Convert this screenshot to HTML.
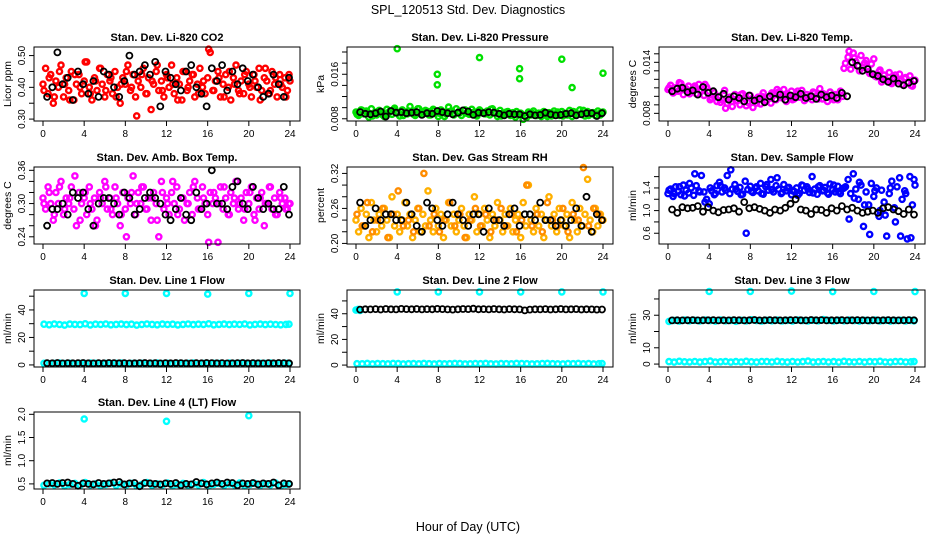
<!DOCTYPE html>
<html><head><meta charset="utf-8"><style>
body{margin:0;background:#fff;}
svg{display:block;font-family:"Liberation Sans",Arial,sans-serif;}
</style></head><body>
<svg id="chart" width="936" height="540" xmlns="http://www.w3.org/2000/svg">
<rect width="936" height="540" fill="#fff"/>
<text x="468" y="14" text-anchor="middle" font-size="12.5">SPL_120513  Std. Dev. Diagnostics</text>
<text x="468" y="531" text-anchor="middle" font-size="12.5">Hour of Day (UTC)</text>
</svg>
<script>
const hoursC=[0,0.25,0.5,0.75,1,1.25,1.5,1.75,2,2.25,2.5,2.75,3,3.25,3.5,3.75,4,4.25,4.5,4.75,5,5.25,5.5,5.75,6,6.25,6.5,6.75,7,7.25,7.5,7.75,8,8.25,8.5,8.75,9,9.25,9.5,9.75,10,10.25,10.5,10.75,11,11.25,11.5,11.75,12,12.25,12.5,12.75,13,13.25,13.5,13.75,14,14.25,14.5,14.75,15,15.25,15.5,15.75,16,16.25,16.5,16.75,17,17.25,17.5,17.75,18,18.25,18.5,18.75,19,19.25,19.5,19.75,20,20.25,20.5,20.75,21,21.25,21.5,21.75,22,22.25,22.5,22.75,23,23.25,23.5,23.75,24];
const hoursH=[0.1,0.6,1.1,1.6,2.1,2.6,3.1,3.6,4.1,4.6,5.1,5.6,6.1,6.6,7.1,7.6,8.1,8.6,9.1,9.6,10.1,10.6,11.1,11.6,12.1,12.6,13.1,13.6,14.1,14.6,15.1,15.6,16.1,16.6,17.1,17.6,18.1,18.6,19.1,19.6,20.1,20.6,21.1,21.6,22.1,22.6,23.1,23.6,23.9];
const hoursK=[0.4,0.9,1.4,1.9,2.4,2.9,3.4,3.9,4.4,4.9,5.4,5.9,6.4,6.9,7.4,7.9,8.4,8.9,9.4,9.9,10.4,10.9,11.4,11.9,12.4,12.9,13.4,13.9,14.4,14.9,15.4,15.9,16.4,16.9,17.4,17.9,18.4,18.9,19.4,19.9,20.4,20.9,21.4,21.9,22.4,22.9,23.4,23.9];
const xTicks=[0,4,8,12,16,20,24];
const outHours=[4,8,12,16,20,24];

const co2A=[.41,.46,.38,.44,.35,.42,.40,.47,.37,.43,.39,.45,.36,.41,.44,.38,.42,.48,.40,.36,.43,.39,.46,.41,.37,.44,.42,.38,.45,.40,.35,.43,.41,.47,.39,.44,.37,.42,.40,.46,.38,.43,.33,.41,.45,.39,.42,.37,.44,.40,.47,.38,.43,.41,.36,.45,.39,.42,.44,.37,.41,.46,.40,.38,.43,.51,.39,.42,.45,.37,.41,.44,.40,.36,.43,.47,.39,.42,.38,.45,.41,.37,.44,.40,.46,.39,.43,.42,.38,.45,.41,.37,.44,.40,.43,.39,.42];
const co2B=[.39,.43,.37,.45,.41,.36,.44,.40,.48,.38,.42,.46,.39,.43,.37,.41,.45,.40,.31,.44,.38,.42,.47,.39,.43,.41,.36,.45,.40,.44,.38,.42,.52,.39,.43,.37,.45,.41,.38,.44,.40,.42,.36,.46,.39,.43,.41,.37,.44];
const co2K=[.37,.40,.51,.41,.43,.36,.45,.41,.38,.42,.37,.45,.44,.40,.37,.42,.50,.44,.45,.47,.44,.48,.34,.45,.43,.41,.39,.45,.47,.40,.38,.34,.46,.42,.47,.39,.45,.41,.46,.42,.44,.40,.37,.38,.44,.41,.37,.43];

const presA=[9.2,8.6,9.6,8.9,9.4,8.3,9.8,9.0,8.7,9.5,9.1,8.4,9.7,9.3,8.8,9.9,9.0,8.5,9.6,9.2,8.9,10.2,9.4,8.6,9.8,9.1,8.8,9.5,9.3,8.7,9.7,9.0,8.4,9.6,9.2,8.9,10.1,9.4,8.7,9.8,9.3,8.6,9.5,9.0,8.8,9.7,9.2,8.5,9.6,9.1,8.9,9.4,8.7,9.8,9.2,8.4,9.5,9.0,8.8,9.3,8.6,9.1,8.3,8.8,9.0,7.9,8.5,9.2,8.7,9.4,8.6,9.0,8.4,9.3,8.8,9.1,8.5,9.4,8.9,8.6,9.3,9.0,8.7,9.5,8.4,9.2,8.8,9.6,9.0,8.5,9.3,8.9,9.1,8.6,9.4,8.7,9.2];
const presB=[8.8,9.5,9.0,8.5,9.3,8.7,8.9,9.6,9.1,8.6,9.4,8.8,9.8,9.2,8.7,9.5,9.0,8.4,9.3,8.9,9.1,9.6,9.1,8.7,9.4,8.9,9.7,9.0,8.5,9.2,8.8,9.3,8.8,8.3,9.0,8.6,9.1,8.4,8.9,9.2,8.5,8.7,9.3,8.8,9.5,8.6,9.1,8.9,9.0];
const presOutH=[4,7.9,7.9,12,15.9,15.9,20,21,24];
const presOutV=[20.6,16.0,14.1,19.0,17.0,15.2,18.7,13.6,16.2];
const presK=[9.2,8.9,8.8,9.0,9.3,8.4,9.4,9.1,9.2,9.0,9.1,9.2,8.7,9.0,8.9,9.4,9.2,9.0,8.8,9.1,9.5,9.3,8.7,9.1,9.0,9.2,9.1,8.9,8.6,8.9,8.8,8.8,8.5,8.8,8.6,8.7,9.1,8.8,8.6,8.7,8.9,9.0,8.6,8.8,9.0,9.0,8.5,9.0];

const tempA=[10.8,11.3,10.4,11.0,10.6,11.5,10.2,10.9,11.2,10.5,11.0,10.3,11.4,10.7,10.1,11.1,10.6,9.8,10.4,9.4,10.0,9.6,10.7,9.2,9.9,8.8,10.2,9.5,9.0,10.3,9.7,9.3,10.1,8.7,9.6,9.9,9.1,10.4,9.4,9.8,9.2,10.2,9.6,10.5,9.9,10.8,9.4,10.1,10.6,9.7,10.3,9.9,10.7,9.5,10.2,10.0,9.6,10.4,9.8,10.9,9.7,10.1,9.4,10.5,9.9,10.2,9.6,10.6,10.0,13.9,14.6,13.2,15.1,14.1,13.6,14.8,13.4,14.2,12.9,13.8,14.4,12.3,12.9,11.7,12.5,11.9,12.8,11.5,12.2,11.8,12.6,11.4,12.1,11.6,12.4,11.2,11.9];
const tempB=[11.0,10.5,11.6,10.8,10.3,11.2,10.7,11.4,9.6,10.0,9.3,8.6,9.9,9.5,10.2,8.9,9.7,9.2,10.0,9.5,10.4,10.8,9.8,10.3,9.6,10.6,10.1,9.8,10.5,9.7,10.3,10.0,9.6,10.2,13.3,15.3,14.5,13.0,13.9,12.7,12.4,13.1,12.0,11.6,12.5,11.8,12.2,11.3,11.9];
const tempK=[10.6,10.9,11.0,10.5,10.7,10.2,11.1,10.4,10.6,9.9,10.3,9.6,10.0,9.8,9.4,10.1,9.5,9.7,9.3,10.0,9.7,10.2,9.6,10.1,9.9,10.3,9.8,10.0,9.7,10.2,9.9,10.1,9.8,10.4,10.0,14.0,13.6,13.0,13.2,12.6,12.4,12.0,11.7,12.1,11.5,11.3,11.6,11.8];

const ambA=[.31,.29,.33,.30,.27,.32,.30,.34,.28,.31,.30,.33,.29,.26,.32,.30,.31,.28,.33,.29,.31,.27,.32,.30,.34,.29,.31,.28,.33,.30,.26,.32,.29,.31,.30,.35,.28,.32,.30,.33,.29,.31,.27,.32,.30,.24,.34,.29,.31,.28,.32,.30,.33,.29,.31,.27,.30,.32,.28,.34,.31,.29,.33,.30,.28,.32,.30,.31,.23,.33,.29,.31,.28,.32,.30,.34,.29,.31,.27,.32,.30,.33,.28,.31,.29,.32,.26,.30,.33,.29,.31,.28,.32,.30,.31,.29,.30];
const ambB=[.30,.32,.28,.33,.29,.31,.35,.27,.32,.30,.26,.31,.33,.29,.31,.28,.24,.32,.30,.33,.29,.31,.27,.32,.30,.34,.28,.31,.30,.33,.29,.31,.23,.32,.30,.33,.28,.31,.30,.29,.32,.27,.31,.30,.33,.28,.31,.29,.30];
const ambK=[.26,.29,.29,.30,.28,.32,.31,.32,.29,.26,.30,.31,.31,.30,.28,.32,.31,.28,.29,.31,.32,.31,.30,.28,.27,.29,.31,.28,.27,.32,.29,.30,.36,.30,.30,.29,.33,.34,.30,.29,.33,.31,.29,.30,.29,.29,.33,.28];

const rhA=[.24,.22,.26,.23,.25,.21,.27,.24,.22,.25,.23,.26,.24,.21,.28,.23,.25,.22,.24,.27,.23,.25,.21,.24,.26,.22,.25,.23,.29,.24,.22,.26,.23,.25,.21,.24,.27,.23,.25,.22,.24,.26,.23,.21,.25,.24,.28,.22,.25,.23,.26,.24,.21,.25,.23,.27,.24,.22,.25,.23,.26,.22,.24,.25,.21,.27,.23,.30,.24,.22,.26,.23,.25,.21,.24,.28,.23,.25,.22,.26,.24,.23,.25,.21,.27,.24,.22,.26,.23,.25,.31,.24,.22,.26,.23,.25,.24];
const rhB=[.25,.23,.27,.22,.24,.26,.21,.25,.29,.23,.24,.22,.26,.32,.23,.25,.22,.24,.27,.23,.25,.21,.24,.26,.23,.25,.22,.24,.26,.23,.25,.22,.24,.30,.23,.25,.22,.27,.24,.23,.26,.22,.25,.24,.33,.23,.26,.25,.24];
const rhK=[.27,.23,.24,.26,.24,.25,.25,.24,.24,.27,.25,.23,.22,.27,.26,.24,.23,.25,.27,.25,.24,.23,.25,.25,.22,.26,.24,.24,.23,.25,.26,.23,.25,.25,.24,.27,.24,.24,.23,.24,.23,.24,.26,.23,.28,.22,.25,.24];

const flowA=[1.30,1.38,1.25,1.42,1.34,1.28,1.45,1.36,1.31,1.40,1.27,1.44,1.35,1.62,1.33,1.20,1.12,1.35,1.28,1.44,1.50,1.33,1.40,1.62,1.30,1.38,1.46,1.34,1.41,1.29,1.52,1.37,1.43,1.32,1.40,1.35,1.48,1.29,1.42,1.36,1.55,1.33,1.44,1.38,1.30,1.46,1.35,1.41,1.28,1.34,1.40,1.30,1.45,1.36,1.42,1.32,1.60,1.38,1.29,1.44,1.35,1.41,1.31,1.47,1.37,1.33,1.43,1.30,1.39,1.42,1.55,1.30,1.65,1.38,1.20,1.45,0.72,1.33,1.10,1.48,1.25,1.40,0.90,1.36,1.15,0.55,1.30,1.52,1.05,1.42,1.58,1.20,1.35,0.50,1.60,1.10,1.45];
const flowB=[1.36,1.30,1.42,1.26,1.48,1.65,1.33,1.15,1.40,1.30,1.44,1.36,1.72,1.38,1.28,0.60,1.34,1.42,1.30,1.46,1.37,1.58,1.32,1.40,1.35,1.27,1.44,1.38,1.31,1.42,1.36,1.29,1.45,1.33,1.40,0.85,1.22,1.50,1.10,0.58,1.35,1.00,0.92,1.40,0.80,0.55,1.30,0.52,1.55];
const flowK=[1.02,0.96,1.06,1.04,1.05,1.08,0.98,1.06,1.00,0.97,1.01,1.02,1.04,0.98,1.15,1.04,1.06,1.03,1.00,0.96,1.02,1.00,1.05,1.12,1.20,1.02,1.00,0.94,1.02,1.01,0.96,1.04,1.00,1.08,1.02,1.05,1.00,0.96,0.98,1.00,0.96,1.04,1.06,1.02,0.99,0.94,1.02,0.93];

const line1Hi=[29.6,29.2,29.8,29.4,29.0,29.7,29.5,29.3,29.9,29.1,29.6,29.4,29.8,29.2,29.5,29.7,29.3,29.6,29.0,29.4,29.8,29.5,29.2,29.7,29.4,29.6,29.1,29.5,29.8,29.3,29.6,29.4,29.9,29.2,29.5,29.7,29.3,29.6,29.4,29.8,29.1,29.5,29.7,29.3,29.6,29.4,29.2,29.5,29.6];
const line1Lo=[1.2,0.9,1.1,1.3,1.0,1.2,0.8,1.1,1.0,1.3,1.2,0.9,1.1,1.0,1.2,1.3,0.9,1.1,1.0,1.2,0.8,1.1,1.3,1.0,1.2,0.9,1.1,1.0,1.2,1.3,0.9,1.1,1.0,1.2,1.1,0.9,1.3,1.0,1.2,1.1,0.9,1.0,1.2,1.1,1.3,0.9,1.0,1.2,1.1];
const line1K=[1.3,1.2,1.4,1.1,1.3,1.2,1.3,1.4,1.2,1.1,1.3,1.2,1.4,1.3,1.2,1.3,1.1,1.2,1.3,1.4,1.2,1.3,1.1,1.3,1.2,1.4,1.3,1.2,1.1,1.3,1.2,1.4,1.3,1.2,1.3,1.1,1.2,1.3,1.4,1.2,1.3,1.2,1.1,1.3,1.2,1.4,1.3,1.2];
const line1Out=[52,52,52,51.5,52,52];

const line2Lo=[1.1,1.0,1.3,0.9,1.2,1.1,1.0,1.3,1.2,0.9,1.1,1.2,1.0,1.3,1.1,0.9,1.2,1.0,1.1,1.3,1.2,0.9,1.0,1.2,1.1,1.3,1.0,0.9,1.2,1.1,1.0,1.3,1.2,1.1,0.9,1.0,1.2,1.3,1.1,1.0,0.9,1.2,1.1,1.3,1.0,1.2,0.9,1.1,1.2];
const line2K=[43.2,43.5,43.4,43.6,43.3,43.7,43.5,43.4,43.8,43.6,43.5,43.7,43.4,43.6,43.5,43.8,43.6,43.4,43.2,43.5,43.7,43.6,43.9,43.5,43.6,43.4,43.7,43.5,43.3,43.6,43.5,43.4,42.6,43.2,43.5,43.4,43.6,43.3,43.5,43.7,43.4,43.5,43.6,43.3,43.5,43.4,43.2,43.3];
const line2HiH=[0,0.2,0.4];
const line2HiV=[42.8,43.4,42.6];
const line2Out=[57,57,57,57,57,57];

const line3Hi=[26.2,26.8,26.4,27.0,26.6,26.9,26.5,27.1,26.7,26.4,27.0,26.6,26.8,26.3,26.9,26.5,27.2,26.7,26.4,26.9,26.6,27.0,26.5,26.8,26.4,27.1,26.7,26.5,26.9,26.6,27.3,26.8,26.5,26.9,26.6,27.0,26.7,26.4,26.9,26.6,27.0,26.5,26.8,26.4,26.7,26.9,26.5,26.8,26.6];
const line3Lo=[1.5,1.2,1.7,1.4,1.3,1.6,1.2,1.5,1.8,1.3,1.4,1.6,1.2,1.5,1.3,1.7,1.4,1.2,1.6,1.5,1.3,1.7,1.4,1.2,1.6,1.3,1.5,1.8,1.2,1.4,1.6,1.3,1.5,1.2,1.7,1.4,1.3,1.6,1.2,1.5,1.4,1.7,1.3,1.2,1.5,1.6,1.3,1.4,1.5];
const line3K=[26.8,26.9,26.8,26.9,27.0,26.8,26.9,26.9,27.0,26.8,26.9,26.8,27.0,26.9,26.8,26.9,27.1,26.8,26.9,27.0,26.9,26.8,26.9,27.0,27.0,26.9,26.8,27.1,26.9,27.0,26.8,26.9,26.9,27.0,26.8,26.9,27.0,26.9,26.8,26.9,26.8,26.9,27.0,26.9,26.8,26.9,27.0,26.9];
const line3Out=[44.6,44.6,44.8,44.5,44.6,44.5];

const line4C=[0.47,0.50,0.48,0.52,0.46,0.49,0.51,0.47,0.53,0.48,0.50,0.46,0.49,0.52,0.47,0.50,0.48,0.51,0.46,0.49,0.53,0.47,0.50,0.48,0.52,0.46,0.49,0.51,0.47,0.50,0.48,0.53,0.46,0.49,0.51,0.47,0.50,0.48,0.52,0.46,0.49,0.51,0.47,0.50,0.48,0.52,0.46,0.49,0.50];
const line4K=[0.51,0.52,0.50,0.52,0.53,0.50,0.46,0.51,0.50,0.49,0.52,0.50,0.51,0.53,0.54,0.49,0.51,0.52,0.45,0.52,0.51,0.50,0.49,0.51,0.50,0.52,0.47,0.50,0.49,0.54,0.51,0.49,0.51,0.53,0.50,0.53,0.52,0.47,0.51,0.50,0.52,0.49,0.51,0.50,0.53,0.47,0.51,0.50];
const line4OutH=[4,12,20];
const line4OutV=[1.90,1.85,1.97];

const colX=[43,356,668];
const rowTop=[47,167,290,412];
const rowBot=[121,244,367,489];

const panels=[
 {name:'co2',title:'Stan. Dev. Li-820 CO2',ylab:'Licor ppm',c:0,r:0,ymin:0.294,ymax:0.527,ticks:[.30,.35,.40,.45,.50],labels:['0.30','','0.40','','0.50'],
  series:[[hoursC,co2A,'#ff0000'],[hoursH,co2B,'#ff0000'],[hoursK,co2K,'#000']]},
 {name:'pressure',title:'Stan. Dev. Li-820 Pressure',ylab:'kPa',c:1,r:0,ymin:7.6,ymax:20.9,ticks:[8,10,12,14,16,18,20],labels:['0.008','','','','0.016','',''],
  series:[[hoursC,presA,'#00e000'],[hoursH,presB,'#00e000'],[presOutH,presOutV,'#00e000'],[hoursK,presK,'#000']]},
 {name:'temp',title:'Stan. Dev. Li-820 Temp.',ylab:'degrees C',c:2,r:0,ymin:7.1,ymax:15.8,ticks:[8,9,10,11,12,13,14,15],labels:['0.008','','','','','','0.014',''],
  series:[[hoursC,tempA,'#ff00ff'],[hoursH,tempB,'#ff00ff'],[hoursK,tempK,'#000']]},
 {name:'amb-box',title:'Stan. Dev. Amb. Box Temp.',ylab:'degrees C',c:0,r:1,ymin:0.227,ymax:0.366,ticks:[.24,.26,.28,.30,.32,.34,.36],labels:['0.24','','','0.30','','','0.36'],
  series:[[hoursC,ambA,'#ff00ff'],[hoursH,ambB,'#ff00ff'],[hoursK,ambK,'#000']]},
 {name:'gas-rh',title:'Stan. Dev. Gas Stream RH',ylab:'percent',c:1,r:1,ymin:0.199,ymax:0.331,ticks:[.20,.22,.24,.26,.28,.30,.32],labels:['0.20','','','0.26','','','0.32'],
  series:[[hoursC,rhA,'#ffb000'],[hoursH,rhB,'#ff8c00'],[hoursK,rhK,'#000']]},
 {name:'sample-flow',title:'Stan. Dev. Sample Flow',ylab:'ml/min',c:2,r:1,ymin:0.41,ymax:1.77,ticks:[.6,.8,1.0,1.2,1.4,1.6],labels:['0.6','','1.0','','1.4',''],
  series:[[hoursC,flowA,'#0000ff'],[hoursH,flowB,'#0000ff'],[hoursK,flowK,'#000']]},
 {name:'line1',title:'Stan. Dev. Line 1 Flow',ylab:'ml/min',c:0,r:2,ymin:-1.5,ymax:54.5,ticks:[0,10,20,30,40,50],labels:['0','','20','','40',''],
  series:[[hoursH,line1Hi,'#00ffff'],[hoursH,line1Lo,'#00ffff'],[outHours,line1Out,'#00ffff'],[hoursK,line1K,'#000']]},
 {name:'line2',title:'Stan. Dev. Line 2 Flow',ylab:'ml/min',c:1,r:2,ymin:-1.5,ymax:58.5,ticks:[0,10,20,30,40,50],labels:['0','','20','','40',''],
  series:[[hoursH,line2Lo,'#00ffff'],[line2HiH,line2HiV,'#00ffff'],[outHours,line2Out,'#00ffff'],[hoursK,line2K,'#000']]},
 {name:'line3',title:'Stan. Dev. Line 3 Flow',ylab:'ml/min',c:2,r:2,ymin:-1.8,ymax:45.5,ticks:[0,10,20,30,40],labels:['0','10','','30',''],
  series:[[hoursH,line3Hi,'#00ffff'],[hoursH,line3Lo,'#00ffff'],[outHours,line3Out,'#00ffff'],[hoursK,line3K,'#000']]},
 {name:'line4',title:'Stan. Dev. Line 4 (LT) Flow',ylab:'ml/min',c:0,r:3,ymin:0.39,ymax:2.05,ticks:[0.5,1.0,1.5,2.0],labels:['0.5','1.0','1.5','2.0'],
  series:[[hoursH,line4C,'#00ffff'],[line4OutH,line4OutV,'#00ffff'],[hoursK,line4K,'#000']]}
];

const svg=document.getElementById('chart');
const NS='http://www.w3.org/2000/svg';
function mk(tag,attrs,parent){const e=document.createElementNS(NS,tag);for(const k in attrs)e.setAttribute(k,attrs[k]);parent.appendChild(e);return e;}

panels.forEach(p=>{
  const x0=colX[p.c], top=rowTop[p.r], bot=rowBot[p.r];
  const left=x0-9, right=x0+257;
  const xs=h=>x0+h*247/24;
  const ys=v=>bot-(v-p.ymin)/(p.ymax-p.ymin)*(bot-top);
  const g=mk('g',{},svg);
  
  
  const t=mk('text',{x:(left+right)/2,y:top-6,'text-anchor':'middle','font-size':'11','font-weight':'bold'},g);
  t.textContent=p.title;
  
  
  const pts=mk('g',{fill:'none'},g);
  
  
  p.series.forEach(s=>{
    const hs=s[0],vs=s[1],col=s[2],blk=col==='#000';
    const n=Math.min(hs.length,vs.length);
    for(let i=0;i<n;i++){
      const c=mk('circle',{cx:xs(hs[i]).toFixed(1),cy:ys(vs[i]).toFixed(1),r:blk?3:2.6,stroke:col,'stroke-width':blk?1.8:2.4},pts);
      
      
    }
  });
  const box=mk('rect',{x:left,y:top,width:right-left,height:bot-top,fill:'none',stroke:'#000','stroke-width':1},g);
  
  
  const ax=mk('g',{stroke:'#000','stroke-width':1},g);
  
  
  xTicks.forEach(h=>{
    mk('line',{x1:xs(h),x2:xs(h),y1:bot,y2:bot+5},ax);
    const tl=mk('text',{x:xs(h),y:bot+16,'text-anchor':'middle','font-size':'10',stroke:'none'},ax);
    tl.textContent=h;
    
    
  });
  const ay=mk('g',{stroke:'#000','stroke-width':1},g);
  
  
  p.ticks.forEach((v,i)=>{
    const y=ys(v);
    mk('line',{x1:left-5,x2:left,y1:y,y2:y},ay);
    if(p.labels[i]){
      const tl=mk('text',{x:0,y:0,'text-anchor':'middle','font-size':'10',stroke:'none',transform:`translate(${left-9},${y}) rotate(-90)`},ay);
      tl.textContent=p.labels[i];
      
      
    }
  });
  const yl=mk('text',{x:0,y:0,'text-anchor':'middle','font-size':'10.5',transform:`translate(${left-23},${(top+bot)/2}) rotate(-90)`},g);
  yl.textContent=p.ylab;
  
  
});
</script>
</body></html>
